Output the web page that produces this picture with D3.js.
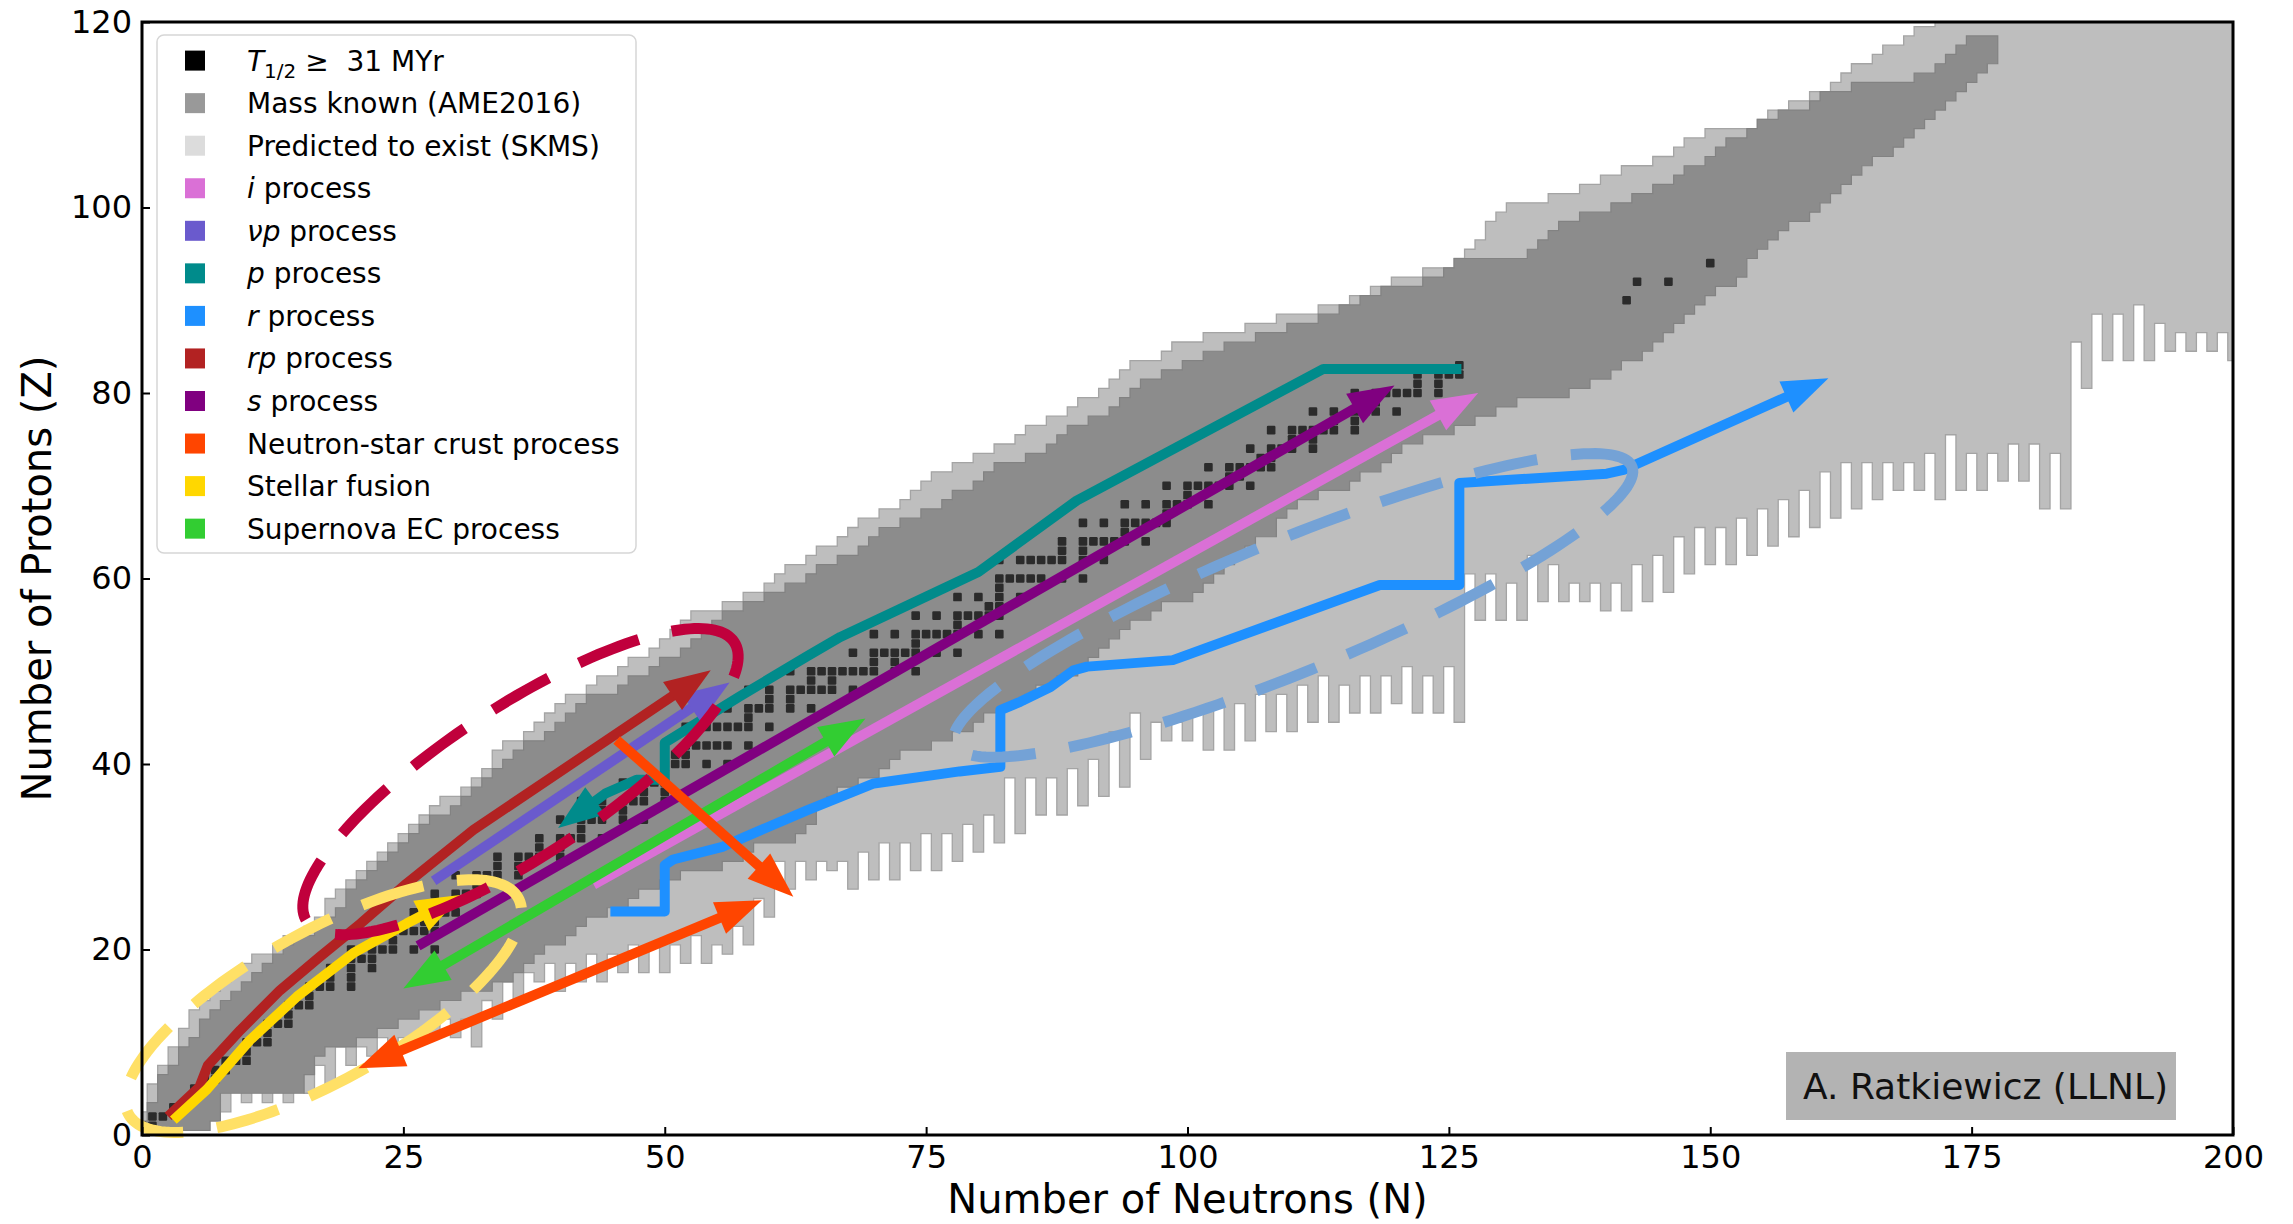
<!DOCTYPE html>
<html><head><meta charset="utf-8">
<script src="https://cdn.jsdelivr.net/npm/d3@7"></script>
<style>
body{margin:0;background:#fff}
svg{display:block}
text{font-family:"DejaVu Sans",sans-serif}
</style>
</head><body>
<svg id="chart" width="2293" height="1224"></svg>
<script>
// ---------------- DATA ----------------
const xTicks = [0,25,50,75,100,125,150,175,200];
const yTicks = [0,20,40,60,80,100,120];

// Mass known (AME2016): one row per Z (Z = 1..118): lowest and highest N
const massNmin = [0,1,1,2,2,2,3,4,4,5, 6,6,7,8,9,10,11,12,13,14, 15,17,18,19,20,20,21,22,23,24,
  25,26,27,28,30,31,32,33,34,35, 36,37,39,40,41,42,43,46,47,49, 50,52,53,54,55,56,58,60,62,64,
  65,67,69,70,71,73,75,77,78,80, 81,82,85,87,88,89,91,93,94,95, 96,98,100,102,104,107,110,113,115,117,
  119,123,125,126,133,134,135,136,138,141, 143,145,147,148,150,151,152,154,155,157, 160,161,164,170,172,173,174,175];
const massNmax = [6,7,7,7,15,15,16,16,17,20, 22,24,26,28,30,33,35,36,37,38, 40,41,42,44,46,47,49,51,55,57,
  58,62,63,64,64,65,66,68,70,71, 72,75,77,79,80,82,84,85,87,89, 90,91,92,93,94,96,97,100,101,102,
  103,104,105,106,108,108,109,110,112,115, 116,118,119,120,122,125,127,129,131,136, 138,140,141,143,144,145,146,147,148,149,
  150,152,153,153,154,155,156,157,159,160, 161,162,163,164,165,167,168,169,170,171, 172,173,174,175,176,177,177,177];

// Predicted to exist (SKMS): proton side, lowest N per Z (Z = 1..120)
const predNmin = [0,0,1,1,1,2,2,3,3,4, 4,5,5,6,7,8,9,10,11,13, 14,16,17,18,18,19,20,21,22,23,
  24,25,26,27,28,29,31,32,33,34, 34,35,37,38,39,40,41,43,44,46, 47,49,50,51,52,53,56,58,60,61,
  62,64,65,67,68,69,71,73,74,75, 76,78,80,82,84,85,87,89,90,92, 93,94,95,98,99,102,106,109,113,116,
  118,120,123,126,127,128,129,129,130,131, 135,138,140,142,145,147,148,150,155,156, 158,160,162,163,164,166,167,169,170,172];
// Predicted to exist: neutron side, lowest Z per N (N = 0..200)
const predZmin = [1,1,1,1,1,1,1,5,3,6, 4,6,4,6,4,7,5,8,6,10, 8,10,9,11,9,11,10,12,11,13, 11,13,10,15,13,17,15,18,17,19,
  16,19,17,20,17,20,18,21,18,21, 18,21,19,22,19,21,20,23,21,26, 24,30,27,30,28,30,29,30,27,31, 28,32,28,32,29,33,29,33,30,34,
  31,35,32,39,33,39,35,39,35,40, 36,41,37,44,38,46,41,45,43,45, 43,46,42,47,42,47,43,48,44,48, 44,49,45,50,45,49,46,50,46,50,
  47,51,46,50,46,51,45,61,56,61, 56,60,56,63,58,62,58,60,58,60, 57,60,57,62,58,63,59,65,61,66, 62,66,62,67,63,68,64,69,65,70,
  66,72,67,73,68,73,69,73,70,73, 70,74,69,76,70,74,70,74,71,75, 71,75,68,74,68,86,81,89,84,89, 84,90,84,88,85,87,85,87,85,87, 84];

// Nuclides with T1/2 >= 31 MYr: [Z, [N...]]
const longLived = [[1,[0,1]],[2,[1,2]],[3,[3,4]],[4,[5]],[5,[5,6]],[6,[6,7]],[7,[7,8]],[8,[8,9,10]],[9,[10]],[10,[10,11,12]],
  [11,[12]],[12,[12,13,14]],[13,[14]],[14,[14,15,16]],[15,[16]],[16,[16,17,18,20]],[17,[18,20]],[18,[18,20,22]],[19,[20,21,22]],
  [20,[20,22,23,24,26,28]],[21,[24]],[22,[24,25,26,27,28]],[23,[27,28]],[24,[26,28,29,30]],[25,[30]],[26,[28,30,31,32]],[27,[32]],
  [28,[30,32,33,34,36]],[29,[34,36]],[30,[34,36,37,38,40]],[31,[38,40]],[32,[38,40,41,42,44]],[33,[42]],[34,[40,42,43,44,46,48]],
  [35,[44,46]],[36,[42,44,46,47,48,50]],[37,[48,50]],[38,[46,48,49,50]],[39,[50]],[40,[50,51,52,54,56]],[41,[51,52]],
  [42,[50,52,53,54,55,56,58]],[44,[52,54,55,56,57,58,60]],[45,[58]],[46,[56,58,59,60,62,64]],[47,[60,62]],
  [48,[58,60,62,63,64,65,66,68]],[49,[64,66]],[50,[62,64,65,66,67,68,69,70,72,74]],[51,[70,72]],[52,[68,70,71,72,73,74,76,78]],
  [53,[74]],[54,[70,72,74,75,76,77,78,80,82]],[55,[78]],[56,[74,76,78,79,80,81,82]],[57,[81,82]],[58,[78,80,82,84]],[59,[82]],
  [60,[82,83,84,85,86,88,90]],[62,[82,84,85,86,87,88,90,92]],[63,[88,90]],[64,[88,90,91,92,93,94,96]],[65,[94]],
  [66,[90,92,94,95,96,97,98]],[67,[98]],[68,[94,96,98,99,100,102]],[69,[100]],[70,[98,100,101,102,103,104,106]],[71,[104,105]],
  [72,[102,104,105,106,107,108]],[73,[107,108]],[74,[106,108,109,110,112]],[75,[110,112]],[76,[108,110,111,112,113,114,116]],
  [77,[114,116]],[78,[112,114,116,117,118,120]],[79,[118]],[80,[116,118,119,120,121,122,124]],[81,[122,124]],[82,[122,124,125,126]],
  [83,[126]],[90,[142]],[92,[143,146]],[94,[150]]];

// Process paths, [N, Z] points
const rProcess  = [[44.8,24.1],[50,24.1],[50,29.1],[50.8,29.7],[55.6,31.1],[57.8,32.2],[63.6,35],[70,37.9],[78.2,39.2],[82.1,39.7],[82.1,45.8],[84,46.7],[86.9,48.3],[89.1,50.1],[90.4,50.5],[98.6,51.2],[118.4,59.3],[126,59.3],[126,70.3],[140.1,71.3],[141.7,71.7],[161.3,81.6]];
const iProcess  = [[43.2,27.0],[127.8,80.0]];
const sProcess  = [[26.4,20.4],[119.8,80.8]];
const pProcess  = [[39.8,33.1],[44.3,36.8],[47.3,38.3],[50,38.3],[50,42.3],[57.2,47.3],[63.6,51.6],[66.8,53.7],[80,60.7],[89.4,68.4],[113,82.6],[126.2,82.6]];
const vpProcess = [[27.9,27.4],[56.2,48.8]];
const ecProcess = [[25.0,15.8],[69.2,44.9]];
const rpProcess = [[2.5,2],[5.5,5.2],[6.3,7.5],[9.4,11.3],[13.2,15.6],[17,19.2],[20.9,22.8],[25.3,27.1],[31.7,32.9],[54.4,50.1]];
const fusion    = [[3,1.6],[6.2,4.9],[10.3,10.2],[14.8,14.9],[20.2,19.6],[25.3,22.8],[30.6,25.9]];
const crustBoth = [[20.7,7.2],[59.3,25.3]];
const crustDown = [[45.4,42.6],[62.3,25.7]];

// Dashed regions: centre [N,Z], semi-axes [N-units], rotation (deg)
const regionNames  = ['r region','stellar region','rp region'];
const regionCenter = [[110.1,57.1],[17.35,13.9],[36.2,38.1]];
const regionAxes   = [[35.7,7.0],[22.0,7.8],[25.4,7.8]];
const regionAngle  = [25.0,32.9,37.0];

const legendLabels = [
  [['T','i'],['1/2','sub'],[' ≥  31 MYr','']],
  [['Mass known (AME2016)','']],
  [['Predicted to exist (SKMS)','']],
  [['i','i'],[' process','']],
  [['νp','i'],[' process','']],
  [['p','i'],[' process','']],
  [['r','i'],[' process','']],
  [['rp','i'],[' process','']],
  [['s','i'],[' process','']],
  [['Neutron-star crust process','']],
  [['Stellar fusion','']],
  [['Supernova EC process','']]
];
const legendColors = ['#000000','#999999','#dcdcdc','#da70d6','#6a5acd','#008b8b','#1e90ff','#b22222','#800080','#ff4500','#ffd700','#32cd32'];
const creditText = 'A. Ratkiewicz (LLNL)';

// ---------------- DRAW ----------------
const svg = d3.select('#chart');
const L = 142, R = 2233, T = 22, B = 1135;
const x = d3.scaleLinear().domain([0,200]).range([L,R]);
const y = d3.scaleLinear().domain([0,120]).range([B,T]);

svg.append('defs').append('clipPath').attr('id','plotclip')
  .append('rect').attr('x',L).attr('y',T).attr('width',R-L).attr('height',B-T);

const bg = svg.append('g').attr('clip-path','url(#plotclip)');

// predicted region as union of N-columns
const cols = d3.range(0,201).map(N => {
  let top = -1;
  predNmin.forEach((n,i) => { if (n <= N) top = Math.max(top, i+1); });
  return {N, top: Math.min(top,121), bot: predZmin[N]};
}).filter(c => c.top >= c.bot);
const pp = d3.path();
cols.forEach((c,i) => {
  const yt = y(c.top+0.5);
  if (i===0) pp.moveTo(x(c.N-0.5), yt); else pp.lineTo(x(c.N-0.5), yt);
  pp.lineTo(x(c.N+0.5), yt);
});
for (let i=cols.length-1;i>=0;i--) {
  const c = cols[i], yb = y(c.bot-0.5);
  pp.lineTo(x(c.N+0.5), yb); pp.lineTo(x(c.N-0.5), yb);
}
pp.closePath();
bg.append('path').attr('d', pp.toString()).attr('fill','#bebebe').attr('stroke','#a4a4a4').attr('stroke-width',1.3);

// mass known region as union of Z-rows
const rows = massNmin.map((n,i) => ({Z:i+1, lo:n, hi:massNmax[i]}));
const mp = d3.path();
rows.forEach((r,i) => {
  if (i===0) mp.moveTo(x(r.lo-0.5), y(r.Z-0.5)); else mp.lineTo(x(r.lo-0.5), y(r.Z-0.5));
  mp.lineTo(x(r.lo-0.5), y(r.Z+0.5));
});
for (let i=rows.length-1;i>=0;i--) {
  const r = rows[i];
  mp.lineTo(x(r.hi+0.5), y(r.Z+0.5)); mp.lineTo(x(r.hi+0.5), y(r.Z-0.5));
}
mp.closePath();
bg.append('path').attr('d', mp.toString()).attr('fill','#8c8c8c').attr('stroke','#828282').attr('stroke-width',1.2);

// long-lived nuclides
const cells = [];
longLived.forEach(([Z,Ns]) => Ns.forEach(N => cells.push({N,Z})));
const sq = 8.6;
bg.selectAll('rect.stable').data(cells).enter().append('rect').attr('class','stable')
  .attr('x', d => x(d.N)-sq/2).attr('y', d => y(d.Z)-sq/2).attr('width',sq).attr('height',sq)
  .attr('rx',1.2).attr('fill','#2b2b2b');

// ---- processes ----
const fg = svg.append('g');
const HL = 46, HW = 17, LW = 10;
function head(tip, from) {
  const dx = tip[0]-from[0], dy = tip[1]-from[1], len = Math.hypot(dx,dy);
  const ux = dx/len, uy = dy/len, bx = tip[0]-ux*HL, by = tip[1]-uy*HL, px = -uy, py = ux;
  return {poly: [[tip[0],tip[1]],[bx+px*HW,by+py*HW],[bx-px*HW,by-py*HW]], base: [bx+ux*6, by+uy*6]};
}
function arrow(pts, color, atStart, atEnd) {
  const P = pts.map(d => [x(d[0]), y(d[1])]);
  const line = P.map(p => p.slice());
  const heads = [];
  if (atEnd) { const n = P.length, h = head(P[n-1], P[n-2]); heads.push(h.poly); line[n-1] = h.base; }
  if (atStart) { const h = head(P[0], P[1]); heads.push(h.poly); line[0] = h.base; }
  fg.append('path').attr('d', d3.line()(line)).attr('fill','none').attr('stroke',color)
    .attr('stroke-width',LW).attr('stroke-linejoin','round').attr('stroke-linecap','butt');
  heads.forEach(poly => fg.append('polygon').attr('points', poly.map(p=>p.join(',')).join(' ')).attr('fill',color));
}
function region(i, color) {
  const th = regionAngle[i]*Math.PI/180, c = regionCenter[i], a = regionAxes[i];
  const pts = d3.range(0,360,2).map(t => {
    const r = t*Math.PI/180, u = a[0]*Math.cos(r), v = a[1]*Math.sin(r);
    return [x(c[0]+u*Math.cos(th)-v*Math.sin(th)), y(c[1]+u*Math.sin(th)+v*Math.cos(th))];
  });
  fg.append('path').attr('d', d3.line().curve(d3.curveLinearClosed)(pts)).attr('fill','none')
    .attr('stroke',color).attr('stroke-width',11).attr('stroke-dasharray','64,34').attr('stroke-linecap','butt');
}

arrow(rProcess,  '#1e90ff', false, true);
arrow(iProcess,  '#da70d6', false, true);
arrow(sProcess,  '#800080', false, true);
arrow(pProcess,  '#008b8b', true, false);
arrow(vpProcess, '#6a5acd', false, true);
arrow(ecProcess, '#32cd32', true, true);
arrow(rpProcess, '#b22222', false, true);
arrow(fusion,    '#ffd700', false, true);
region(0, '#74a2d6');
region(1, '#ffe066');
region(2, '#c0003c');
arrow(crustBoth, '#ff4500', true, true);
arrow(crustDown, '#ff4500', false, true);

// ---- axes ----
const xa = svg.append('g').attr('transform',`translate(0,${B})`)
  .call(d3.axisBottom(x).tickValues(xTicks).tickSize(-8).tickPadding(10).tickFormat(d3.format('d')));
const ya = svg.append('g').attr('transform',`translate(${L},0)`)
  .call(d3.axisLeft(y).tickValues(yTicks).tickSize(-8).tickPadding(10).tickFormat(d3.format('d')));
[xa,ya].forEach(a => {
  a.select('.domain').remove();
  a.selectAll('.tick line').attr('stroke','#000').attr('stroke-width',2);
  a.selectAll('.tick text').attr('font-family','DejaVu Sans').attr('font-size',32).attr('fill','#000');
});
svg.append('rect').attr('x',L).attr('y',T).attr('width',R-L).attr('height',B-T)
  .attr('fill','none').attr('stroke','#000').attr('stroke-width',3);

svg.append('text').attr('x',(L+R)/2).attr('y',1213).attr('text-anchor','middle')
  .attr('font-size',40).text('Number of Neutrons (N)');
svg.append('text').attr('transform',`translate(51,${(T+B)/2}) rotate(-90)`).attr('text-anchor','middle')
  .attr('font-size',40).text('Number of Protons (Z)');

// ---- legend ----
const lg = svg.append('g');
lg.append('rect').attr('x',157).attr('y',35).attr('width',479).attr('height',518).attr('rx',7)
  .attr('fill','#fff').attr('fill-opacity',0.85).attr('stroke','#d6d6d6').attr('stroke-width',1.5);
legendLabels.forEach((parts,i) => {
  const cy = 60.6 + i*42.55;
  lg.append('rect').attr('x',185).attr('y',cy-10).attr('width',20).attr('height',20).attr('fill',legendColors[i]);
  const t = lg.append('text').attr('x',247).attr('y',cy+10).attr('font-size',28).style('white-space','pre');
  let shifted = false;
  parts.forEach(([s,st]) => {
    const ts = t.append('tspan').text(s);
    if (st==='i') ts.attr('font-style','italic');
    if (st==='sub') { ts.attr('font-size',20).attr('dy',7); shifted = true; }
    else if (shifted) { ts.attr('dy',-7); shifted = false; }
  });
});

// ---- credit ----
svg.append('rect').attr('x',1786).attr('y',1052).attr('width',390).attr('height',68).attr('fill','#b3b3b3');
svg.append('text').attr('x',1803).attr('y',1099).attr('font-family','Liberation Sans, Arial, sans-serif')
  .attr('font-size',36).attr('fill','#111').text(creditText);
</script>
</body></html>
